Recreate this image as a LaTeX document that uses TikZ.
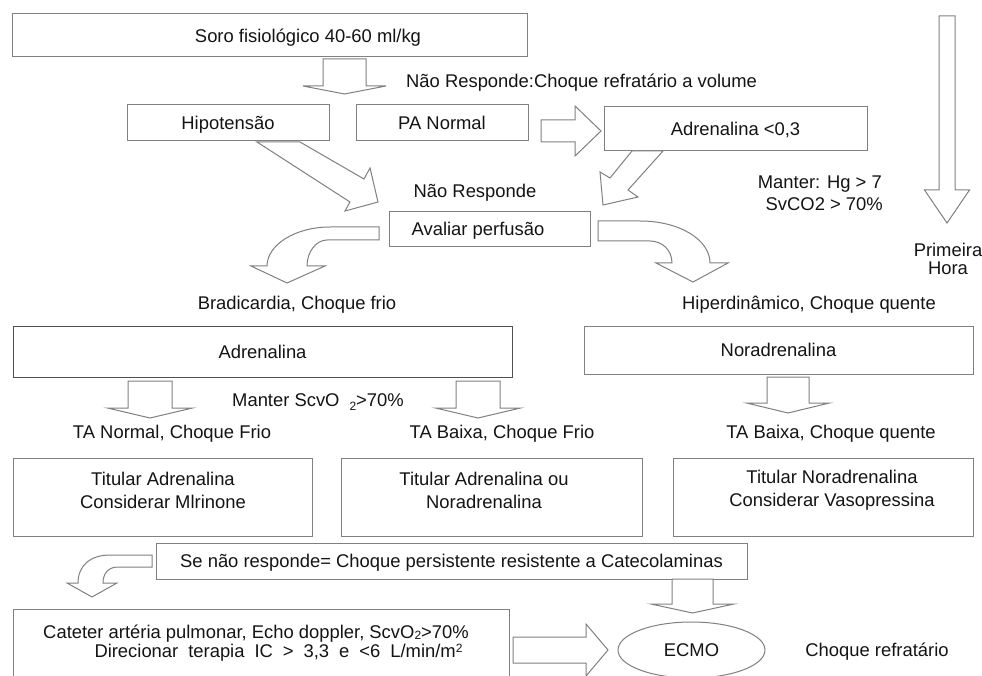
\documentclass[tikz,border=0pt]{standalone}
\usepackage{fontspec}
\setmainfont{Liberation Sans}
\usetikzlibrary{shapes.geometric}
\definecolor{linegray}{RGB}{128,128,128}
\definecolor{darkline}{RGB}{80,80,80}
\definecolor{txt}{RGB}{20,20,20}
\newcommand{\dfont}{\fontsize{18.4}{23}\selectfont}
\newcommand{\smallfig}[1]{{\fontsize{12}{12}\selectfont #1}}
% block arrow pointing down: xc, top, head base, tip, shaft half, head half
\newcommand{\bdown}[6]{\draw[blk] (#1-#5,#2) -- (#1-#5,#3) -- (#1-#6,#3) -- (#1,#4) -- (#1+#6,#3) -- (#1+#5,#3) -- (#1+#5,#2) -- cycle;}
% block arrow pointing right: yc, left x, head base x, tip x, shaft half, head half
\newcommand{\bright}[6]{\draw[blk] (#2,#1-#5) -- (#3,#1-#5) -- (#3,#1-#6) -- (#4,#1) -- (#3,#1+#6) -- (#3,#1+#5) -- (#2,#1+#5) -- cycle;}
\begin{document}
\begin{tikzpicture}[x=1pt,y=-1pt,
  bx/.style={draw=linegray,line width=1pt,fill=white,inner sep=0pt,text=txt,font=\dfont,text height=13.2pt,text depth=0pt},
  blk/.style={draw=linegray,line width=1pt,fill=white,line join=miter},
  lbl/.style={text=txt,font=\dfont,inner sep=0pt,text height=13.2pt,text depth=0pt},
  ml/.style={text=txt,font=\dfont,inner sep=0pt,align=center}]
\useasboundingbox (0,0) rectangle (982,676);
\clip (0,0) rectangle (982,676);
\fill[white] (0,0) rectangle (982,676);

% ---------- boxes ----------
\node[bx,minimum width=515pt,minimum height=43pt] (soro) at (269.5,35.5) {};
\node[lbl] (soroT) at (308,36) {Soro fisiológico 40-60 ml/kg};
\node[bx,minimum width=202pt,minimum height=36pt] (hipo) at (228,123) {Hipotensão};
\node[bx,minimum width=172pt,minimum height=36pt] (pa) at (442,123) {PA Normal};
\node[bx,minimum width=263pt,minimum height=44pt] (adr03) at (735.5,129) {Adrenalina <0,3};
\node[bx,minimum width=201pt,minimum height=35pt] (aval) at (489.5,229.5) {};
\node[lbl] (avalT) at (478,229) {Avaliar perfusão};
\node[bx,draw=darkline,minimum width=499pt,minimum height=51pt] (adr) at (262.5,351.5) {Adrenalina};
\node[bx,minimum width=389pt,minimum height=48pt] (nor) at (778.5,350) {Noradrenalina};
\node[bx,minimum width=299pt,minimum height=78pt] (tit1) at (162.5,497) {};
\node[bx,minimum width=301pt,minimum height=78pt] (tit2) at (491.5,497) {};
\node[bx,minimum width=300pt,minimum height=78pt] (tit3) at (823,497) {};
\node[ml] (tit1T) at (163,490.5) {Titular Adrenalina\\Considerar Mlrinone};
\node[ml] (tit2T) at (484,490.5) {Titular Adrenalina ou\\Noradrenalina};
\node[ml] (tit3T) at (832,490.5) {Titular Noradrenalina\\Considerar Vasopressina};
\node[bx,minimum width=591pt,minimum height=36pt] (se) at (451.5,561) {Se não responde= Choque persistente resistente a Catecolaminas};
\node[bx,minimum width=496pt,minimum height=90pt] (cat) at (261,654) {};
\node[lbl] (catA) at (256,632) {Cateter artéria pulmonar, Echo doppler, ScvO\raisebox{-1pt}{\smallfig{2}}>70\%};
\node[lbl] (catB) at (278.5,651) {\makebox[368pt][s]{Direcionar terapia IC > 3,3 e <6 L/min/m\raisebox{5pt}{\smallfig{2}}}};
\node[bx,ellipse,minimum width=147pt,minimum height=56pt] (ecmo) at (691.5,650) {ECMO};

% ---------- free labels ----------
\node[lbl,anchor=west] (nr1) at (406,81) {Não Responde:Choque refratário a volume};
\node[lbl] (nr2) at (475,191) {Não Responde};
\node[lbl,anchor=east] (mant1) at (882,182) {Manter: Hg > 7};
\node[lbl,anchor=east] (mant2) at (883,204) {SvCO2 > 70\%};
\node[lbl] (prim) at (948,250) {Primeira};
\node[lbl] (hora) at (948,268) {Hora};
\node[lbl] (brad) at (297,303) {Bradicardia, Choque frio};
\node[lbl] (hiper) at (809,303) {Hiperdinâmico, Choque quente};
\node[lbl,anchor=west] (mscv) at (232,400) {Manter ScvO\hspace{10pt}\raisebox{-4pt}{\smallfig{2}}>70\%};
\node[lbl] (tan) at (172,432) {TA Normal, Choque Frio};
\node[lbl] (tab) at (502,432) {TA Baixa, Choque Frio};
\node[lbl] (tabq) at (831,432) {TA Baixa, Choque quente};
\node[lbl] (choq) at (877,650) {Choque refratário};

% ---------- straight block arrows ----------
\bdown{344.5}{59}{86}{94}{21.5}{41.5}
\bdown{947}{16}{190}{223}{8}{22.5}
\bdown{150}{381}{408}{418}{22}{42.5}
\bdown{478}{381}{408}{418}{22}{42.5}
\bdown{788}{377}{403}{413}{21}{41.5}
\bdown{692.5}{579}{604}{613}{20.5}{41.5}
\bright{131}{541}{575}{601}{11}{25}
\bright{650}{513}{586}{608}{13}{26}

% ---------- diagonal block arrows ----------
\draw[blk] (257,142) -- (350,202) -- (345,211) -- (378,202) -- (370,168) -- (364,179) -- (300,142) -- cycle;
\draw[blk] (632,151) -- (610,178) -- (600,172) -- (603,205) -- (638,197) -- (628,190) -- (663,151) -- cycle;

% ---------- curved block arrows ----------
\draw[blk] (379,227) -- (330,227) .. controls (295,227) and (267,245) .. (267,266)
  -- (251,266) -- (287,283) -- (325,266) -- (307,266)
  .. controls (307,252) and (316,240) .. (327,240) -- (379,240) -- cycle;
\draw[blk] (598,221) -- (640,221) .. controls (680,221) and (710,240) .. (710,263)
  -- (728,263) -- (693,282) -- (656,263) -- (672,263)
  .. controls (672,250) and (662,241) .. (650,241) -- (598,241) -- cycle;
\draw[blk] (152,555) -- (110,555) .. controls (90,555) and (78,566) .. (78,583)
  -- (67,583) -- (92,597) -- (117,583) -- (103,583)
  .. controls (103,574) and (108,567) .. (118,567) -- (152,567) -- cycle;
\end{tikzpicture}
\end{document}
